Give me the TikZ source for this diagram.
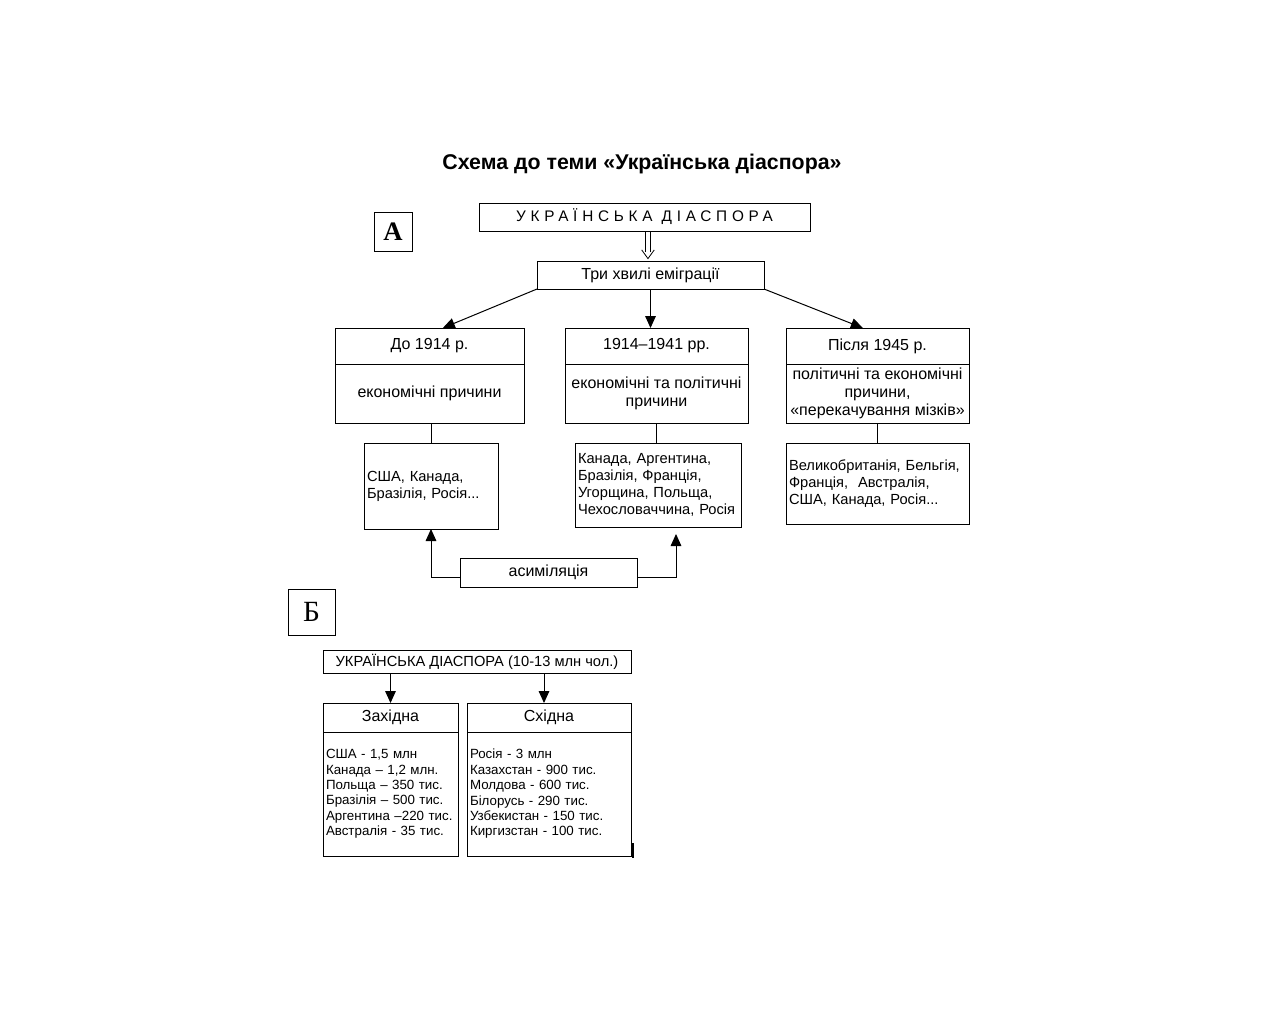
\documentclass[tikz,border=0pt]{standalone}
\usepackage{fontspec}
\setmainfont{Liberation Sans}
\newfontfamily\serifA{Liberation Serif}
\newfontfamily\spaced[LetterSpace=31]{Liberation Sans}
\usetikzlibrary{arrows.meta}
\tikzset{
  sz/.style 2 args={minimum width=#1*0.75pt, minimum height=#2*0.75pt},
  box/.style={draw, line width=0.75pt, inner sep=1.5pt, outer sep=0pt, align=center,
    font=\fontsize{12}{13.5}\selectfont},
  lst/.style={box, align=left, inner xsep=2.25pt, text width=#1, font=\fontsize{11}{12.75}\selectfont},
  lstB/.style={box, align=left, inner xsep=2.25pt, text width=#1, font=\fontsize{10}{11.55}\selectfont},
  tri/.style={line width=0.75pt, -{Triangle[length=9pt,width=8pt]}},
  dbl/.style={line width=0.6pt}
}
\begin{document}
\begin{tikzpicture}[x=0.75pt, y=-0.75pt]
        \useasboundingbox (0,0) rectangle (1280,1024);
        %% title
        \node[font=\fontsize{16}{18}\selectfont\bfseries] (title) at (642,164) {Схема до теми «Українська діаспора»};
        %% part A
        \node[box, sz={38}{39}, font=\fontsize{20}{22}\serifA\bfseries] (labA) at (393,231.5) {А};
        \node[box, sz={331}{28}, font=\fontsize{11.5}{13}\spaced] (diasp) at (644.5,217) {УКРАЇНСЬКА ДІАСПОРА};
        \node[box, sz={227}{28}] (waves) at (650.5,275) {Три хвилі еміграції};
        %% double arrow
        \coordinate (dEnd) at ([xshift=-1.9pt,yshift=1.8pt]waves.north);
        \coordinate (dTop) at (dEnd |- diasp.south);
        \draw[dbl] ([xshift=-1.7pt]dTop) -- ([xshift=-1.7pt,yshift=5pt]dEnd);
        \draw[dbl] ([xshift=1.7pt]dTop) -- ([xshift=1.7pt,yshift=5pt]dEnd);
        \draw[dbl] ([xshift=-4.7pt,yshift=6.5pt]dEnd) -- (dEnd) -- ([xshift=4.7pt,yshift=6.5pt]dEnd);
        %% three waves
        \node[box, sz={189}{36}] (h1) at (429.5,346) {До 1914 р.};
        \node[box, sz={189}{59}, anchor=north] (b1) at (h1.south) {економічні причини};
        \node[box, sz={183}{36}] (h2) at (656.5,346) {1914–1941 рр.};
        \node[box, sz={183}{59}, anchor=north] (b2) at (h2.south) {економічні та політичні\\причини};
        \node[box, sz={183}{36}] (h3) at (877.5,346) {Після 1945 р.};
        \node[box, sz={183}{59}, anchor=north] (b3) at (h3.south) {політичні та економічні\\причини,\\«перекачування мізків»};
        \draw[tri] (waves.south west) -- ([xshift=10pt]h1.north);
        \draw[tri] (waves.south) -- (waves.south |- h2.north);
        \draw[tri] (waves.south east) -- ([xshift=-11pt]h3.north);
        %% countries
        \node[lst=96pt, sz={134}{86}] (c1) at (431,486) {США, Канада,\\Бразілія, Росія...};
        \node[lst=120pt, sz={166}{84}] (c2) at (658,485) {Канада, Аргентина,\\Бразілія, Франція,\\Угорщина, Польща,\\Чехословаччина, Росія};
        \node[lst=132.75pt, sz={183}{81}] (c3) at (877.5,483.5) {Великобританія, Бельгія,\\Франція,~ Австралія,\\США, Канада, Росія...};
        \draw[line width=0.75pt] (c1.north) -- (c1.north |- b1.south);
        \draw[line width=0.75pt] (b2.south) -- (b2.south |- c2.north);
        \draw[line width=0.75pt] (b3.south) -- (b3.south |- c3.north);
        %% assimilation
        \node[box, sz={177}{29}] (asim) at (548.5,572.5) {асиміляція};
        \coordinate (aR) at ([xshift=13.5pt,yshift=-5.25pt]c2.south);
        \draw[tri] ([yshift=-3.4pt]asim.west) -| (c1.south);
        \draw[tri] ([yshift=-3.4pt]asim.east) -| (aR);
        %% part B
        \node[box, sz={47}{46}, font=\fontsize{22}{24}\serifA] (labB) at (311.5,612) {Б};
        \node[box, sz={308}{23}, font=\fontsize{11}{13}\selectfont] (diaspB) at (477,661.5) {УКРАЇНСЬКА ДІАСПОРА (10-13 млн чол.)};
        \node[box, sz={135}{29}] (west) at (390.5,717.5) {Західна};
        \node[lstB=96.75pt, sz={135}{124}, anchor=north] (westL) at (west.south) {США - 1,5 млн\\Канада – 1,2 млн.\\Польща – 350 тис.\\Бразілія – 500 тис.\\Аргентина –220 тис.\\Австралія - 35 тис.};
        \node[box, sz={164}{29}] (east) at (549,717.5) {Східна};
        \node[lstB=118.5pt, sz={164}{124}, anchor=north] (eastL) at (east.south) {Росія - 3 млн\\Казахстан - 900 тис.\\Молдова - 600 тис.\\Білорусь - 290 тис.\\Узбекистан - 150 тис.\\Киргизстан - 100 тис.};
        \coordinate (eArr) at ([xshift=-3.75pt]east.north);
        \draw[tri] (diaspB.south -| west.north) -- (west.north);
        \draw[tri] (eArr |- diaspB.south) -- (eArr);
        \draw[line width=1.5pt] (633,843) -- (633,858);
    \end{tikzpicture}
\end{document}
